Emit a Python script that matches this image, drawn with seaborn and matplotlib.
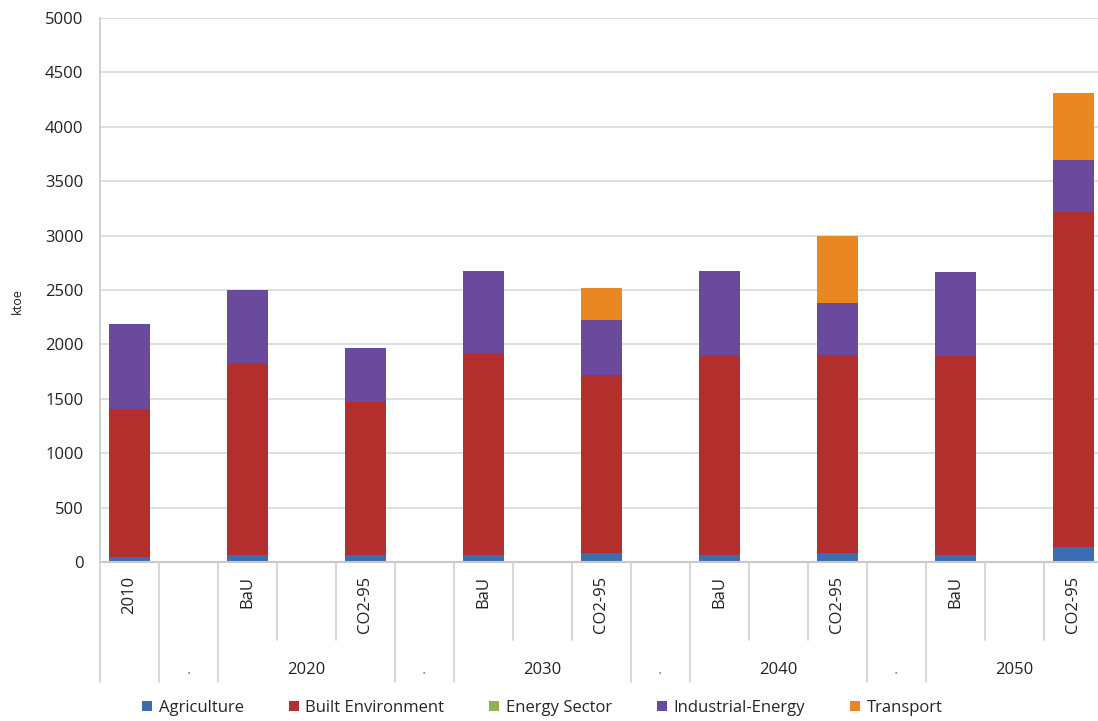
import matplotlib
matplotlib.use("Agg")
import matplotlib.pyplot as plt
import matplotlib.transforms as mtransforms
from matplotlib.patches import Patch
import numpy as np
import pandas as pd
import seaborn as sns

# Category slots on the x axis (blank slots separate the scenario years)
slots = ["2010", "gap1", "2020 BaU", "gap2", "2020 CO2-95", "gap3",
         "2030 BaU", "gap4", "2030 CO2-95", "gap5", "2040 BaU", "gap6",
         "2040 CO2-95", "gap7", "2050 BaU", "gap8", "2050 CO2-95"]
slot_labels = ["2010", "", "BaU", "", "CO2-95", "", "BaU", "", "CO2-95",
               "", "BaU", "", "CO2-95", "", "BaU", "", "CO2-95"]

# Upper category level: (label, first slot, last slot)
groups = [("", 0, 0), (".", 1, 1), ("2020", 2, 4), (".", 5, 5),
          ("2030", 6, 8), (".", 9, 9), ("2040", 10, 12), (".", 13, 13),
          ("2050", 14, 16)]

# Energy consumption by sector, ktoe
agriculture = [50, 0, 60, 0, 65, 0, 60, 0, 85, 0, 60, 0, 85, 0, 60, 0, 140]
built_env = [1360, 0, 1770, 0, 1405, 0, 1860, 0, 1635, 0, 1840, 0, 1815, 0, 1830, 0, 3075]
energy_sector = [0, 0, 0, 0, 0, 0, 0, 0, 0, 0, 0, 0, 0, 0, 0, 0, 0]
industrial = [780, 0, 670, 0, 495, 0, 755, 0, 505, 0, 775, 0, 480, 0, 780, 0, 480]
transport = [0, 0, 0, 0, 0, 0, 0, 0, 295, 0, 0, 0, 615, 0, 0, 0, 615]

sectors = ["Agriculture", "Built Environment", "Energy Sector",
           "Industrial-Energy", "Transport"]
colors = ["#3b6db2", "#b32f2e", "#8fb24c", "#6a4a9c", "#ea8722"]

df = pd.DataFrame({
    "slot": slots,
    "Agriculture": agriculture,
    "Built Environment": built_env,
    "Energy Sector": energy_sector,
    "Industrial-Energy": industrial,
    "Transport": transport,
})
cum = df[sectors].cumsum(axis=1)
cum["slot"] = df["slot"]

sns.set_theme(style="white")
plt.rcParams["font.family"] = ["Open Sans", "DejaVu Sans"]

FS = 12
fig = plt.figure(figsize=(10.98, 7.21), dpi=100)
ax = fig.add_axes([100 / 1098, 1 - 562 / 721, 998 / 1098, 544 / 721])

# Stacked bars: draw cumulative totals from the top segment downwards
for name, col in reversed(list(zip(sectors, colors))):
    sns.barplot(data=cum, x="slot", y=name, order=slots, color=col,
                width=0.7, linewidth=0, saturation=1, ax=ax, errorbar=None)

XMAX = 16.42
ax.set_ylim(0, 5000)
ax.set_xlim(-0.5, XMAX)
ax.set_yticks(np.arange(0, 5001, 500))
ax.yaxis.grid(True, color="#d9d9d9", linewidth=1.2)
ax.set_axisbelow(True)
for s in ["top", "right", "bottom"]:
    ax.spines[s].set_visible(False)
ax.spines["left"].set_color("#c8c8c8")
ax.spines["left"].set_linewidth(1.2)
ax.tick_params(axis="y", length=8, width=1.2, color="#d0d0d0",
               labelsize=FS, labelcolor="#222222", pad=4)

ax.set_ylabel("ktoe", fontsize=9, color="#222222")
ax.yaxis.set_label_coords(-0.076, 0.48)
ax.set_xlabel("")

# Lower category level: rotated slot labels
ax.set_xticks(range(len(slots)))
ax.set_xticklabels(slot_labels, rotation=90, va="top", ha="center",
                   fontsize=FS, color="#222222")
ax.tick_params(axis="x", length=0, pad=10)

trans = mtransforms.blended_transform_factory(ax.transData, ax.transAxes)
ax_h = 544.0
short_end = -(640 - 562) / ax_h
long_end = -(682 - 562) / ax_h

# Baseline of the category axis
ax.plot([-0.5, XMAX], [0, 0], transform=trans, color="#c8c8c8",
        linewidth=1.5, clip_on=False)

# Separator lines: long ones between groups, short ones inside a group
group_edges = set()
for _, a, b in groups:
    group_edges.add(a - 0.5)
    group_edges.add(b + 0.5)
for k in range(len(slots) + 1):
    xk = k - 0.5
    if xk > XMAX:
        continue
    end = long_end if xk in group_edges else short_end
    ax.plot([xk, xk], [0, end], transform=trans, color="#cfcfcf",
            linewidth=1.2, clip_on=False)

# Upper category level labels
for label, a, b in groups:
    if label:
        ax.text((a + b) / 2, -(670 - 562) / ax_h, label, transform=trans,
                ha="center", va="center", fontsize=FS,
                color="#222222" if label != "." else "#888888")

handles = [Patch(facecolor=c, edgecolor="none") for c in colors]
fig.legend(handles, sectors, loc="center", bbox_to_anchor=(0.494, 1 - 708 / 721),
           ncol=5, frameon=False, fontsize=FS, handlelength=0.6,
           handleheight=0.6, handletextpad=0.4, columnspacing=2.7)

fig.savefig("out.png", dpi=100)
